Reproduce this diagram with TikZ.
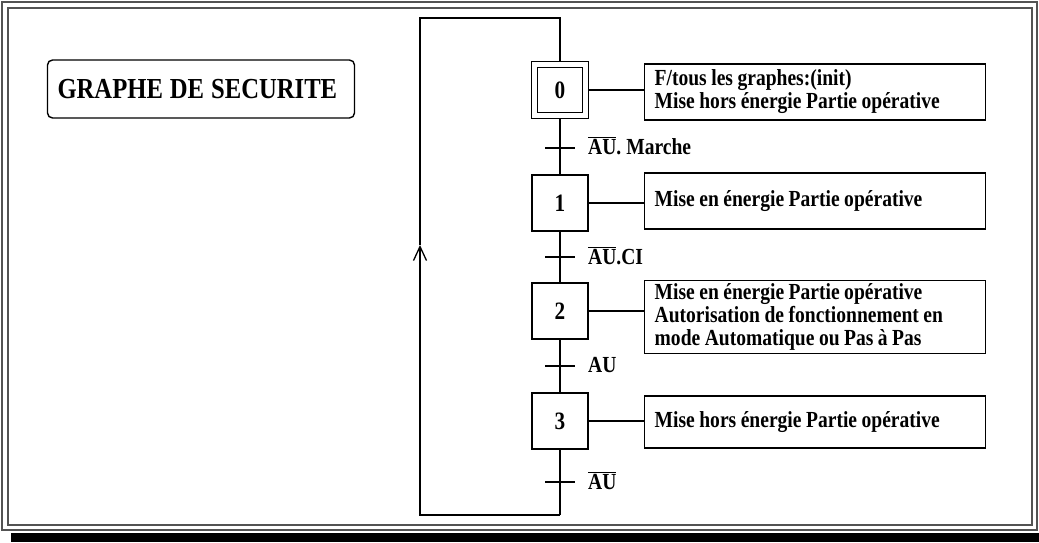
\documentclass[tikz,border=0pt]{standalone}
\usepackage{fontspec}
\setmainfont[FakeStretch=0.85]{Liberation Serif}
\usetikzlibrary{arrows.meta}

\tikzset{
  grafcet/.style={line width=1.3pt},
  framegray/.style={draw=gray!65!black,line width=1.8pt},
  tightwords/.style={execute at begin node={\spaceskip=4.5pt\xspaceskip=5pt\relax}},
  bigtext/.style={font=\fontsize{23}{23}\selectfont\bfseries,tightwords},
  titlebox/.style={draw,line width=1.4pt,rounded corners=5pt,minimum width=307pt,minimum height=58pt,
    text width=287pt,inner xsep=10pt,align=left,font=\fontsize{29}{30}\selectfont\bfseries,
    execute at begin node={\spaceskip=7pt\relax}},
  stepbox/.style={draw,line width=1.4pt,minimum size=56pt,inner sep=0pt,font=\fontsize{25}{25}\selectfont\bfseries},
  initstep/.style={stepbox,double,double distance=4.5pt,minimum size=51pt,outer sep=3.6pt},
  actbox/.style={draw,line width=1.4pt,minimum width=341pt,minimum height=56pt,text width=321pt,
    inner xsep=10pt,align=left,anchor=west,bigtext},
  trlabel/.style={anchor=base west,inner sep=0pt,bigtext}
}

\begin{document}
\begin{tikzpicture}[x=1pt,y=-1pt]
  \useasboundingbox (0,0) rectangle (1039,543);
  % cadre
  \draw[framegray] (2,2) rectangle (1037,530);
  \draw[framegray] (8,8) rectangle (1032,525);
  \fill (11,533) rectangle (1039,542);

  \node[titlebox] (title) at (201,89) {GRAPHE DE SECURITE};

  % etapes
  \node[initstep] (s0) at (560,90) {0};
  \node[stepbox] (s1) at (560,203) {1};
  \node[stepbox] (s2) at (560,311) {2};
  \node[stepbox] (s3) at (560,421) {3};

  % actions
  \node[actbox] (a0) at (644,92) {F/tous les graphes:(init)\\Mise hors énergie Partie opérative};
  \node[actbox] (a1) at (644,201) {Mise en énergie Partie opérative};
  \node[actbox,minimum height=66pt] (a2) at (644,317) {Mise en énergie Partie opérative\\Autorisation de fonctionnement en\\mode Automatique ou Pas à Pas};
  \node[actbox,minimum height=52pt] (a3) at (644,422) {Mise hors énergie Partie opérative};
  \foreach \n in {0,1,2,3}
    \draw[grafcet] (s\n.east) -- (s\n.east -| a\n.west);

  % transitions
  \coordinate (t0) at (560,148);
  \coordinate (t1) at (560,257);
  \coordinate (t2) at (560,366);
  \coordinate (t3) at (560,482);
  \draw[grafcet] (s0) -- (s1);
  \draw[grafcet] (s1) -- (s2);
  \draw[grafcet] (s2) -- (s3);
  \foreach \t in {t0,t1,t2,t3}
    \draw[grafcet] ([xshift=-15pt]\t) -- ([xshift=15pt]\t);
  \node[trlabel] (l0) at (588,154) {\(\overline{\mbox{AU}}\). Marche};
  \node[trlabel] (l1) at (588,264) {\(\overline{\mbox{AU}}\).CI};
  \node[trlabel] (l2) at (588,372) {AU};
  \node[trlabel] (l3) at (588,489) {\(\overline{\mbox{AU}}\)};

  % retour
  \coordinate (loopSE) at (560,515);
  \coordinate (loopSW) at (420,515);
  \coordinate (loopNW) at (420,18);
  \coordinate (loopNE) at (560,18);
  \coordinate (arr) at (420,245);
  \draw[grafcet] (s3) -- (loopSE);
  \draw[grafcet,-{Straight Barb[length=14pt,width=13pt]}] (loopSE) -- (loopSW) -- (arr);
  \draw[grafcet] (arr) -- (loopNW) -- (loopNE) -- (s0);
\end{tikzpicture}
\end{document}
